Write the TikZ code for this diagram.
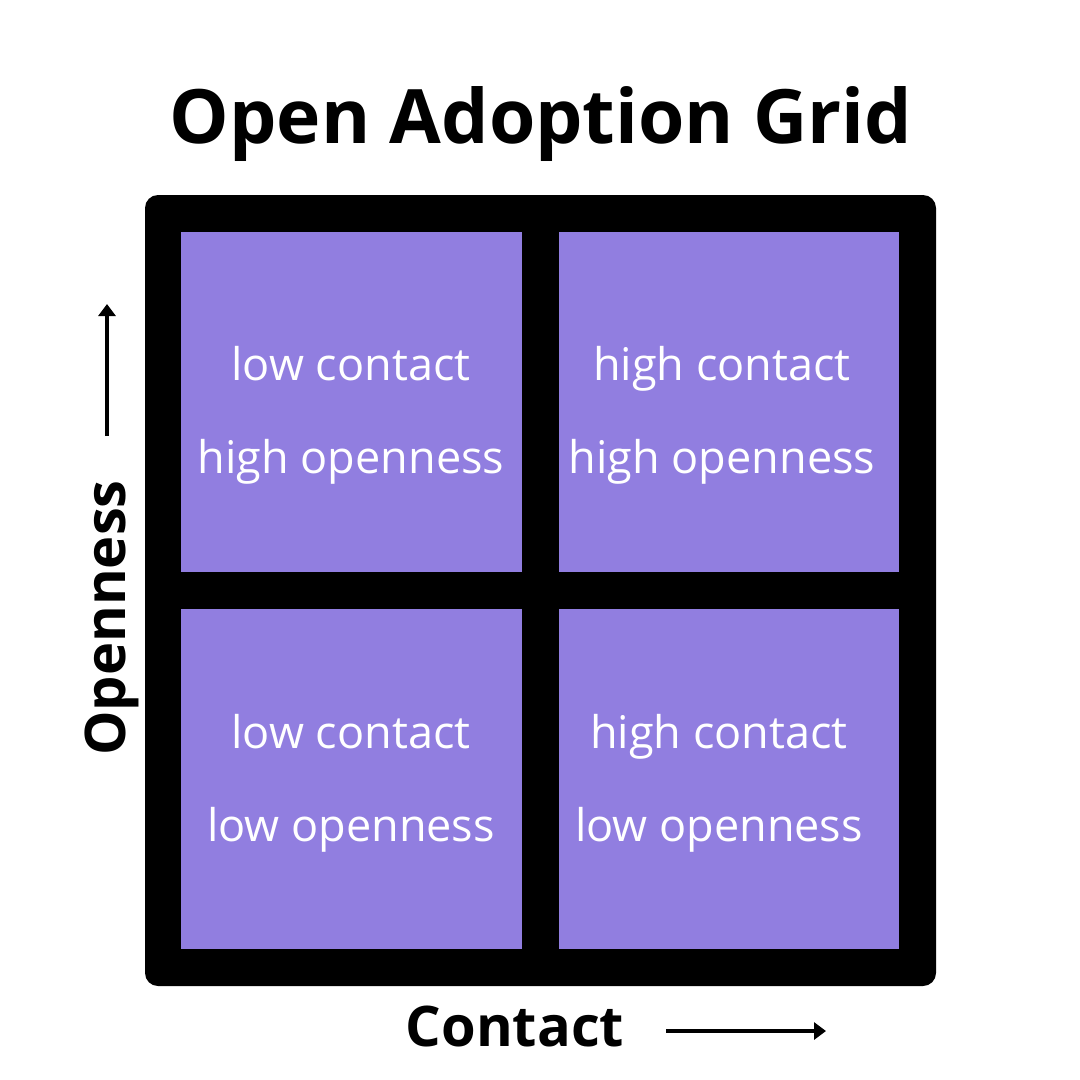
\documentclass[tikz,border=0pt]{standalone}
\usepackage{fontspec}
\setmainfont{Open Sans}
\usetikzlibrary{arrows.meta}
\definecolor{cellpurple}{RGB}{145,126,224}
\tikzset{
  cell/.style={fill=cellpurple},
  celltext/.style={text=white, font=\fontsize{45}{93}\selectfont, align=center, anchor=base, inner sep=0pt},
  axislabel/.style={font=\fontsize{56}{60}\selectfont\bfseries, anchor=base, inner sep=0pt},
  axisarrow/.style={line width=4pt, -{Triangle[length=12pt,width=17pt]}}
}
\begin{document}
\begin{tikzpicture}[x=1pt,y=-1pt]
\useasboundingbox[fill=white] (0,0) rectangle (1080,1080);
% frame
\fill[black, rounded corners=13pt] (145,195) rectangle (936,986);
\fill[cell] (181,232) rectangle (522,572);
\fill[cell] (559,232) rectangle (899,572);
\fill[cell] (181,609) rectangle (522,949);
\fill[cell] (559,609) rectangle (899,949);
% title
\node[font=\fontsize{75}{80}\selectfont\bfseries, anchor=base, inner sep=0pt] (title) at (541,143) {Open Adoption Grid};
% cell texts (base anchor = last line baseline)
\node[celltext] (tl) at (351,473) {low contact\\high openness};
\node[celltext] (tr) at (722,473) {high contact\\high openness};
\node[celltext] (bl) at (351,841) {low contact\\low openness};
\node[celltext] (br) at (719,841) {high contact\\low openness};
% axis labels
\node[axislabel, rotate=90] (openness) at (125,618) {Openness};
\node[axislabel] (contact) at (515,1046) {Contact};
% arrows
\coordinate (vstart) at (107,436);
\coordinate (vend) at (107,304);
\coordinate (hstart) at (666,1031);
\coordinate (hend) at (826,1031);
\draw[axisarrow] (vstart) -- (vend);
\draw[axisarrow] (hstart) -- (hend);
\end{tikzpicture}
\end{document}
